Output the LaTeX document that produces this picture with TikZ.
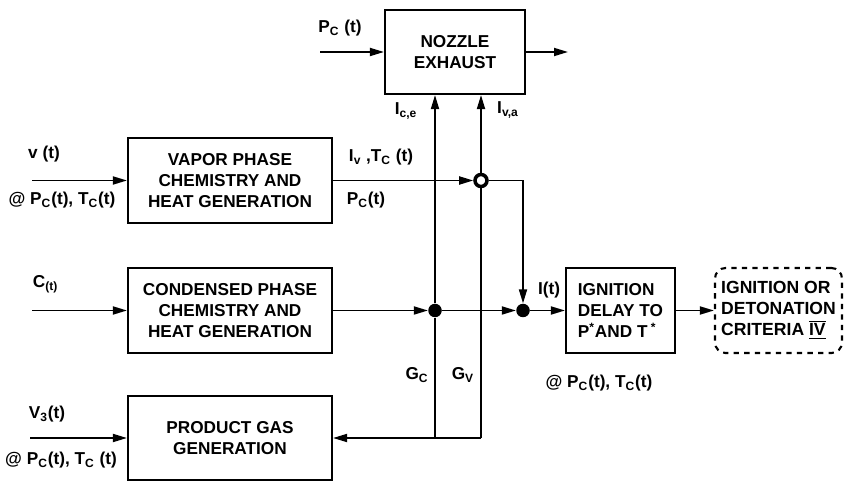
\documentclass[tikz,border=0pt]{standalone}
\usepackage{fontspec}
\setmainfont{Liberation Sans}
\usetikzlibrary{arrows.meta,positioning,calc}

\begin{document}
\begin{tikzpicture}[font=\fontsize{9.8}{12}\selectfont\bfseries, box/.style={draw,line width=1.2pt,minimum width=4.08cm,minimum height=1.7cm,align=center,inner sep=2pt}, dbox/.style={draw,dashed,rounded corners=6pt,line width=1.2pt,minimum width=2.54cm,minimum height=1.7cm,align=left,inner sep=2pt}, arr/.style={-{Triangle[length=2.8mm,width=1.6mm]},line width=1pt}, ln/.style={line width=1pt}, jn/.style={circle,fill=black,inner sep=0pt,minimum size=0.27cm}]
\useasboundingbox (0,0) rectangle (16.88,-9.62);
% blocks
\node[box,minimum width=2.8cm,minimum height=1.68cm] (nozzle) at (9.10,-1.04) {NOZZLE\\EXHAUST};
\node[box] (vapor) at (4.60,-3.61) {VAPOR PHASE\\CHEMISTRY AND\\HEAT GENERATION};
\node[box] (cond) at (4.60,-6.21) {CONDENSED PHASE\\CHEMISTRY AND\\HEAT GENERATION};
\node[box,minimum height=1.68cm] (prod) at (4.60,-8.76) {PRODUCT GAS\\GENERATION};
\node[box,minimum width=2.18cm,align=left] (ign) at (12.41,-6.21) {IGNITION\\DELAY TO\\P\textsuperscript{*}AND T\textsuperscript{ *}};
\node[dbox,font=\fontsize{10}{12}\selectfont\bfseries] (crit) at (15.57,-6.21) {IGNITION OR\\DETONATION\\CRITERIA $\overline{\underline{\mbox{\bfseries IV}}}$};
% junctions
\node[jn,fill=white,draw,line width=2pt,minimum size=0.24cm] (jv) at (9.62,-3.61) {};
\node[jn] (jc) at (8.70,-6.21) {};
\node[jn] (js) at (10.46,-6.21) {};
\coordinate (turn) at (10.46,-3.61);
\coordinate (gcbot) at (8.70,-8.76);
\coordinate (gvbot) at (9.62,-8.76);
\coordinate (pin) at (6.40,-1.04);
\coordinate (pout) at (11.36,-1.04);
\coordinate (vin) at (0.64,-3.61);
\coordinate (cin) at (0.64,-6.21);
\coordinate (gin) at (0.60,-8.76);
% labels
\node (lpn) at (6.80,-0.56) {P\textsubscript{C} (t)};
\node (lice) at (8.12,-2.22) {I\textsubscript{c,e}};
\node (liva) at (10.16,-2.20) {I\textsubscript{v,a}};
\node (livt) at (7.62,-3.14) {I\textsubscript{v} ,T\textsubscript{C} (t)};
\node (lpv) at (7.32,-4.00) {P\textsubscript{C}(t)};
\node (lv) at (0.88,-3.08) {v (t)};
\node (lvat) at (1.24,-4.00) {@ P\textsubscript{C}(t), T\textsubscript{C}(t)};
\node (lc) at (0.91,-5.68) {C\textsubscript{(t)}};
\node (lg) at (0.94,-8.28) {V\textsubscript{3}(t)};
\node (lgat) at (1.22,-9.20) {@ P\textsubscript{C}(t), T\textsubscript{C} (t)};
\node (lgc) at (8.34,-7.50) {G\textsubscript{C}};
\node (lgv) at (9.26,-7.50) {G\textsubscript{V}};
\node (lit) at (10.98,-5.80) {I(t)};
\node (liat) at (11.98,-7.66) {@ P\textsubscript{C}(t), T\textsubscript{C}(t)};
% connectors
\draw[arr] (pin) -- (nozzle);
\draw[arr] (nozzle) -- (pout);
\draw[arr] (vin) -- (vapor);
\draw[arr] (cin) -- (cond);
\draw[arr] (gin) -- (prod);
\draw[arr] (vapor) -- (jv);
\draw[arr] (jv) -- (turn) -- (js);
\draw[arr] (cond) -- (jc);
\draw[arr] (jc) -- (js);
\draw[arr] (js) -- (ign);
\draw[arr] (ign) -- (crit);
\draw[arr] (jc) -- (jc |- nozzle.south);
\draw[arr] (jv) -- (jv |- nozzle.south);
\draw[ln] (jc) -- (gcbot);
\draw[ln] (jv) -- (gvbot);
\draw[arr] (gvbot) -- (prod);
\end{tikzpicture}
\end{document}
